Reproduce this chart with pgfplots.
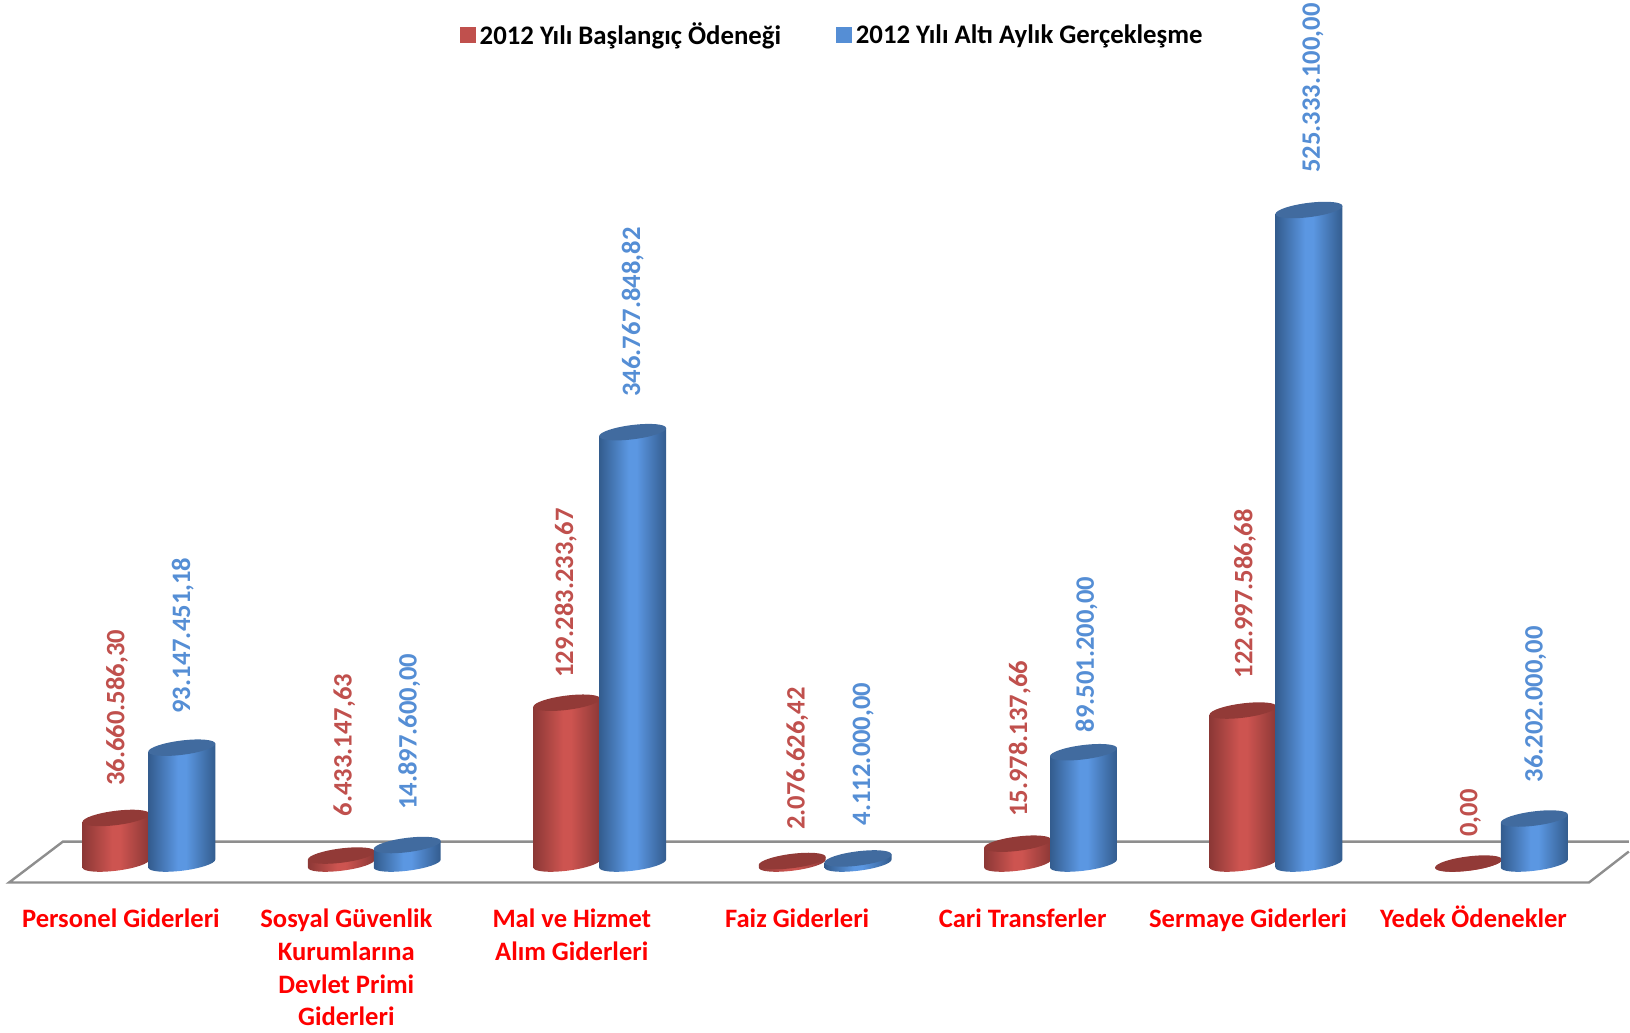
\documentclass[border=0pt]{standalone}
\usepackage{fontspec}
\setmainfont{Carlito}
\usepackage{pgfplots}
\pgfplotsset{compat=1.18}
\definecolor{redlegend}{HTML}{C0504D}
\definecolor{redside}{HTML}{CD5450}
\definecolor{rededge}{HTML}{8C3836}
\definecolor{redtop}{HTML}{923A37}
\definecolor{bluelegend}{HTML}{558ED5}
\definecolor{blueside}{HTML}{5B97E2}
\definecolor{blueedge}{HTML}{335C8E}
\definecolor{bluetop}{HTML}{416B9F}
\definecolor{floorline}{HTML}{8E8E8E}
\pgfdeclarehorizontalshading{redcyl}{100bp}{color(0bp)=(rededge); color(25bp)=(rededge); color(47bp)=(redside); color(53bp)=(redside); color(75bp)=(rededge); color(100bp)=(rededge)}
\pgfdeclarehorizontalshading{bluecyl}{100bp}{color(0bp)=(blueedge); color(25bp)=(blueedge); color(47bp)=(blueside); color(53bp)=(blueside); color(75bp)=(blueedge); color(100bp)=(blueedge)}
% cylinder drawn downwards from the data point; \val is the value in millions
% 0.6225pt per million = axis height / (ymax - ymin)
\newcommand{\cylinder}[2]{%
  \pgfmathsetlengthmacro{\cylh}{\val*0.6225}%
  \pgfmathsetlengthmacro{\cylb}{-\cylh-2pt}%
  \pgfmathsetlengthmacro{\cylc}{-\cylh+2pt}%
  \pgfmathsetlengthmacro{\cyll}{-\cylh-2pt-1.99pt}%
  \pgfmathsetlengthmacro{\cylm}{-\cylh-3.6pt}%
  \pgfmathsetlengthmacro{\cylp}{-\cylh-3.6pt-1.1pt}%
  \pgfmathsetlengthmacro{\cylq}{-\cylh-3.6pt+1.1pt}%
  \pgfmathsetlengthmacro{\cylr}{-\cylh+2pt-1.99pt}%
  \pgfpathmoveto{\pgfqpoint{-16.75pt}{-2pt}}%
  \pgfpathlineto{\pgfqpoint{-16.75pt}{\cylb}}%
  \pgfpathcurveto{\pgfqpoint{-16.75pt}{\cyll}}{\pgfqpoint{-9.25pt}{\cylp}}{\pgfqpoint{0pt}{\cylm}}%
  \pgfpathcurveto{\pgfqpoint{9.25pt}{\cylq}}{\pgfqpoint{16.75pt}{\cylr}}{\pgfqpoint{16.75pt}{\cylc}}%
  \pgfpathlineto{\pgfqpoint{16.75pt}{2pt}}%
  \pgfpathclose
  \pgfshadepath{#1}{0}%
  \pgfusepath{discard}%
  \pgfpathellipse{\pgfpointorigin}{\pgfqpoint{16.75pt}{2pt}}{\pgfqpoint{0pt}{3.6pt}}%
  \pgfsetfillcolor{#2}%
  \pgfusepath{fill}%
}
\pgfdeclareplotmark{redcylinder}{\cylinder{redcyl}{redtop}}
\pgfdeclareplotmark{bluecylinder}{\cylinder{bluecyl}{bluetop}}
\pgfplotsset{
  series/.style={only marks,scatter,point meta=y,mark=#1cylinder,
    legend image code/.code={\fill[#1legend] (0pt,-3.5pt) rectangle (7.5pt,4pt);},
    visualization depends on={rawy\as\val},
    visualization depends on={value \thisrow{label}\as\lab},
    visualization depends on={value \thisrow{dx}\as\labdx},
    visualization depends on={value \thisrow{dy}\as\labdy},
    nodes near coords={\lab},
    nodes near coords style={text=#1legend,xshift=\labdx pt,yshift=18.5pt+\labdy pt,rotate=90,anchor=west,inner sep=0pt,
      font=\fontsize{13.3}{16}\selectfont\bfseries}},
}
\begin{document}
\begin{tikzpicture}
\begin{axis}[
  scale only axis,
  width=815pt,
  height=516pt,
  xmin=-0.6605, xmax=6.565,
  ymin=-134.94, ymax=693.98,
  clip=false,
  axis line style={draw=none},
  major tick length=0pt,
  ytick=\empty,
  xtick={0,...,6},
  typeset ticklabels with strut,
  xticklabels={{Personel Giderleri},{Sosyal Güvenlik\\Kurumlarına\\Devlet Primi\\Giderleri},{Mal ve Hizmet\\Alım Giderleri},{Faiz Giderleri},{Cari Transferler},{Sermaye Giderleri},{Yedek Ödenekler}},
  x tick label style={align=center,anchor=north,xshift=-14pt,yshift=67pt,text=red,
    font=\fontsize{13.3}{16.4}\selectfont\bfseries},
  legend columns=2,
  legend style={at={(0.2821,0.982)},anchor=north west,draw=none,fill=none,
    font=\fontsize{13.4}{15}\selectfont\bfseries,inner sep=0pt,
    /tikz/every even column/.append style={column sep=25.5pt}},
]
% floor of the chart
\addplot[forget plot,no marks,floorline,line width=1.2pt]
  coordinates {(6.565,17.67) (-0.3812,17.67) (-0.6206,-15.26) (6.388,-15.26) (6.565,9.64)};

% dx, dy: how far each value label sits from its usual place, in pt
\addplot[series=red]
  table[x expr=\thisrow{x}-0.146,y=y,row sep=crcr] {
    x y label dx dy\\
    0 36.66058630 36.660.586,30 0.5 -2.6\\
    1 6.43314763 6.433.147,63 1.5 1.0\\
    2 129.28323367 129.283.233,67 -0.5 -6.2\\
    3 2.07662642 2.076.626,42 2.6 -3.1\\
    4 15.97813766 15.978.137,66 1 -5.2\\
    5 122.99758668 122.997.586,68 1 -2.6\\
    6 0.00 0,00 1 -5.2\\
  };
\addlegendentry{2012 Yılı Başlangıç Ödeneği}

\addplot[series=blue]
  table[x expr=\thisrow{x}+0.146,y=y,row sep=crcr] {
    x y label dx dy\\
    0 93.14745118 93.147.451,18 0.5 -1.6\\
    1 14.89760000 14.897.600,00 1 -1\\
    2 346.76784882 346.767.848,82 0 -1\\
    3 4.11200000 4.112.000,00 2.6 -2\\
    4 89.50120000 89.501.200,00 1.5 -8.8\\
    5 525.33310000 525.333.100,00 2 0\\
    6 36.20200000 36.202.000,00 0.5 -0.5\\
  };
\addlegendentry{2012 Yılı Altı Aylık Gerçekleşme}
\end{axis}
\end{tikzpicture}
\end{document}
